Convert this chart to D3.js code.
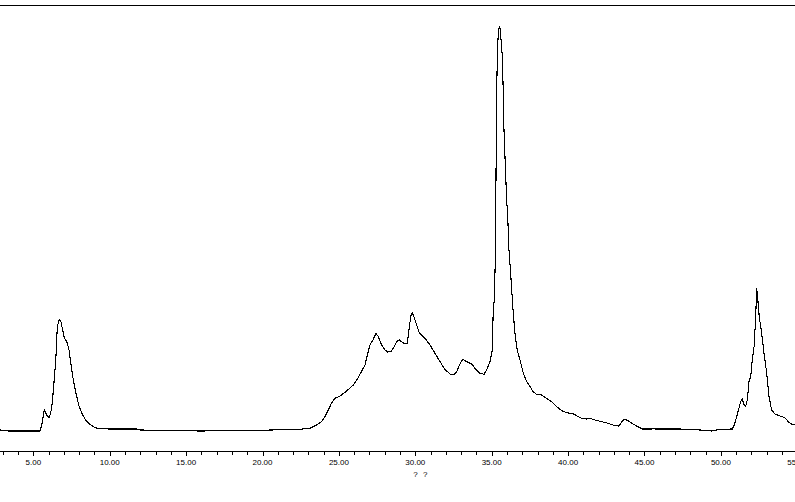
<!DOCTYPE html>
<html><head><meta charset="utf-8">
<script src="https://cdn.jsdelivr.net/npm/d3@7"></script>
<style>html,body{margin:0;padding:0;background:#fff;overflow:hidden}</style>
</head><body>
<svg id="chart" width="795" height="502"></svg>
<script>
// Retention time (minutes)
const timeMin = [2.82,3.34,5.44,5.55,5.72,5.88,6.03,6.14,6.24,6.35,6.47,6.57,6.70,6.81,6.92,7.03,7.19,7.34,7.45,7.62,7.79,7.97,8.17,8.38,8.60,8.93,9.25,10.02,11.79,11.98,13.95,15.91,19.18,22.45,23.11,23.55,23.87,24.09,24.31,24.53,24.74,25.07,25.51,25.94,26.27,26.71,26.86,27.03,27.25,27.43,27.58,27.80,28.02,28.19,28.39,28.56,28.78,28.95,29.11,29.33,29.48,29.61,29.72,29.80,29.91,30.05,30.26,30.63,30.96,31.29,31.62,31.94,32.27,32.53,32.71,32.88,33.10,33.36,33.69,33.91,34.23,34.50,34.67,34.89,35.04,35.10,35.17,35.23,35.28,35.31,35.33,35.37,35.43,35.50,35.54,35.61,35.69,35.76,35.77,35.82,35.92,35.98,36.05,36.13,36.24,36.31,36.41,36.52,36.67,36.85,37.07,37.29,37.51,37.72,37.94,38.27,38.60,38.93,39.25,39.58,39.91,40.34,40.89,41.22,41.43,41.76,42.20,42.63,43.07,43.33,43.51,43.68,43.94,44.16,44.49,44.88,45.47,45.55,45.69,47.32,48.63,49.40,49.94,50.75,50.88,51.03,51.18,51.29,51.40,51.51,51.62,51.73,51.84,51.95,52.05,52.17,52.28,52.34,52.41,52.51,52.67,52.82,53.00,53.15,53.32,53.54,53.87,54.19,54.41,54.63,54.85];
// Detector signal (relative, % of largest peak)
const signal = [0.25,0,0,1.48,5.19,3.95,3.28,4.44,6.91,11.85,17.53,25.75,27.58,26.99,24.94,22.96,22.05,20.00,16.79,12.59,9.38,6.42,4.44,2.96,1.98,1.06,0.57,0.49,0.49,0.25,0.12,0,0.12,0.42,0.67,1.48,2.30,3.53,5.19,6.99,8.07,8.64,9.88,11.36,13.26,16.30,18.77,21.23,22.64,24.12,23.28,21.23,20.00,19.51,19.58,20.42,22.05,22.47,22.05,21.48,21.65,25.75,28.64,29.21,28.22,26.59,24.27,22.89,21.23,19.19,17.11,15.23,14.07,13.83,14.64,16.30,17.70,17.11,16.54,15.48,14.25,14.00,15.06,17.11,20.00,29.88,32.35,41.48,61.98,76.79,84.20,93.33,98.27,100,99.51,96.54,92.84,83.46,78.02,72.59,62.72,57.04,52.84,44.69,39.01,34.81,29.14,24.20,20.00,17.53,14.25,12.17,10.94,9.70,9.06,8.89,8.07,7.23,6.00,5.01,4.52,4.20,3.14,2.96,3.14,2.72,2.30,1.90,1.31,1.23,2.30,2.89,2.54,1.90,1.23,0.49,0.49,0.74,0.49,0.49,0.25,0,0.42,0.49,1.48,3.53,5.60,7.23,7.83,6.59,6.00,7.65,12.17,13.41,17.53,20.81,28.22,35.23,32.77,28.22,24.12,19.19,14.25,8.47,5.19,4.20,3.70,3.28,2.30,1.73,1.48];
const majorTicks = [5,10,15,20,25,30,35,40,45,50,55];
const tickLabels = ["5.00","10.00","15.00","20.00","25.00","30.00","35.00","40.00","45.00","50.00","55.00"];
const axisTitle = "? ?";
const xDomain = [2.82, 54.85];
const yDomain = [0, 100];

const svg = d3.select("#chart");
const W = 795;
const x = d3.scaleLinear().domain(xDomain).range([0, W]);
const y = d3.scaleLinear().domain(yDomain).range([431, 26]);

// top frame line
svg.append("line").attr("x1", x(xDomain[0])).attr("x2", x(xDomain[1]))
  .attr("y1", 5.5).attr("y2", 5.5).attr("stroke", "#000").attr("stroke-width", 1)
  .attr("shape-rendering", "crispEdges");

// minor ticks
const minorTicks = d3.range(Math.ceil(xDomain[0]), Math.floor(xDomain[1]) + 1).filter(v => v % 5 !== 0);
const axisG = svg.append("g").attr("transform", "translate(0,451)");
axisG.append("line").attr("x1", x(xDomain[0])).attr("x2", x(xDomain[1]))
  .attr("y1", 0.5).attr("y2", 0.5).attr("stroke", "#000").attr("shape-rendering", "crispEdges");
axisG.selectAll("line.minor").data(minorTicks).enter().append("line").attr("class", "minor")
  .attr("x1", d => Math.round(x(d)) + 0.5).attr("x2", d => Math.round(x(d)) + 0.5)
  .attr("y1", 0).attr("y2", 3.5).attr("stroke", "#000").attr("shape-rendering", "crispEdges");
axisG.selectAll("line.major").data(majorTicks).enter().append("line").attr("class", "major")
  .attr("x1", d => Math.round(x(d)) + 0.5).attr("x2", d => Math.round(x(d)) + 0.5)
  .attr("y1", 0).attr("y2", 4.5).attr("stroke", "#000").attr("shape-rendering", "crispEdges");
axisG.selectAll("text.lab").data(majorTicks).enter().append("text").attr("class", "lab")
  .attr("x", d => x(d)).attr("y", 14)
  .attr("text-anchor", "middle")
  .attr("font-family", "Liberation Sans, Arial, sans-serif").attr("font-size", 8)
  .attr("fill", "#000")
  .text((d, i) => tickLabels[i]);

svg.append("text").attr("x", x(30.33)).attr("y", 476.5)
  .attr("text-anchor", "middle")
  .attr("font-family", "Liberation Sans, Arial, sans-serif").attr("font-size", 8)
  .attr("word-spacing", 3)
  .attr("fill", "#000").text(axisTitle);

const data = timeMin.map((t, i) => ({t, v: signal[i]}));
const line = d3.line().x(d => x(d.t)).y(d => y(d.v));
svg.append("path").datum(data).attr("d", line)
  .attr("fill", "none").attr("stroke", "#000").attr("stroke-width", 1.1)
  .attr("shape-rendering", "crispEdges");
</script>
</body></html>
